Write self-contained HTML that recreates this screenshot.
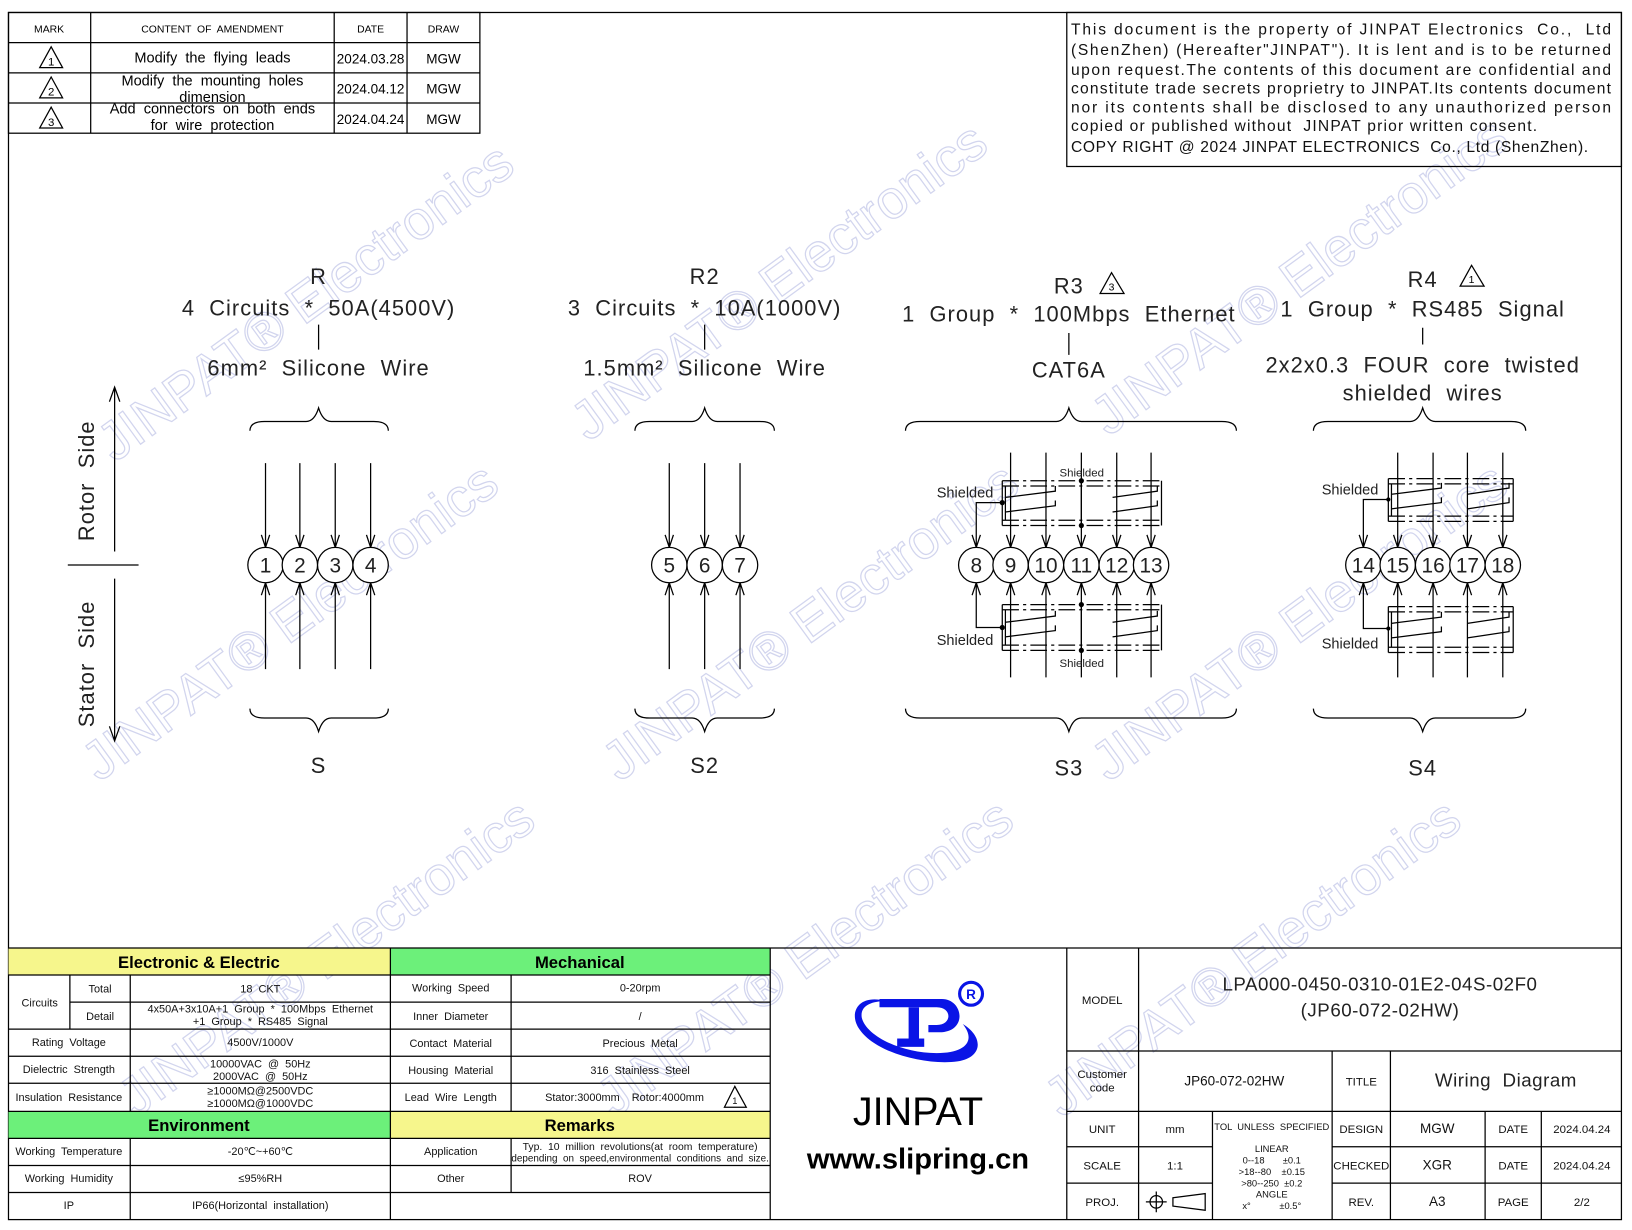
<!DOCTYPE html>
<html><head><meta charset="utf-8"><style>
html,body{margin:0;padding:0;background:#fff;}
svg{display:block;font-family:"Liberation Sans",sans-serif;}
text{white-space:pre;}
</style></head><body>
<svg width="1632" height="1230" viewBox="0 0 1568 1182" xmlns="http://www.w3.org/2000/svg">
<rect width="1568" height="1182" fill="#fff"/>
<!-- watermarks -->
<g font-size="52" fill="none" stroke="#d2d5ee" stroke-width="1.2" font-family="Liberation Sans,sans-serif">
<text transform="translate(110,445) rotate(-36)">JINPAT® Electronics</text>
<text transform="translate(565,425) rotate(-36)">JINPAT® Electronics</text>
<text transform="translate(1065,420) rotate(-36)">JINPAT® Electronics</text>
<text transform="translate(95,752) rotate(-36)">JINPAT® Electronics</text>
<text transform="translate(595,752) rotate(-36)">JINPAT® Electronics</text>
<text transform="translate(1065,752) rotate(-36)">JINPAT® Electronics</text>
<text transform="translate(130,1075) rotate(-36)">JINPAT® Electronics</text>
<text transform="translate(590,1075) rotate(-36)">JINPAT® Electronics</text>
<text transform="translate(1020,1075) rotate(-36)">JINPAT® Electronics</text>
</g>
<g stroke="#000" fill="none" stroke-width="1.2">
<rect x="8" y="12" width="1550" height="1160"/>
<rect x="8" y="12" width="453" height="116"/>
<path d="M8 41H461M8 70H461M8 99H461M87 12V128M321 12V128M391 12V128"/>
<path d="M49 45L38 65H60Z M49 74L38 94H60Z M49 103L38 123H60Z"/>
<rect x="1025" y="12" width="533" height="148"/>
</g>
<g font-size="10" text-anchor="middle">
<text x="47" y="31">MARK</text><text x="204" y="31">CONTENT  OF  AMENDMENT</text><text x="356" y="31">DATE</text><text x="426" y="31">DRAW</text>
<text x="49" y="63" font-size="11">1</text><text x="49" y="92" font-size="11">2</text><text x="49" y="121" font-size="11">3</text>
</g>
<g font-size="14" text-anchor="middle">
<text x="204" y="60">Modify  the  flying  leads</text>
<text x="204" y="82">Modify  the  mounting  holes</text><text x="204" y="98">dimension</text>
<text x="204" y="109">Add  connectors  on  both  ends</text><text x="204" y="125">for  wire  protection</text>
<text x="356" y="61" font-size="13">2024.03.28</text><text x="356" y="90" font-size="13">2024.04.12</text><text x="356" y="119" font-size="13">2024.04.24</text>
<text x="426" y="61" font-size="13">MGW</text><text x="426" y="90" font-size="13">MGW</text><text x="426" y="119" font-size="13">MGW</text>
</g>
<g font-size="15" fill="#111">
<text x="1029" y="33" textLength="519" lengthAdjust="spacing">This document is the property of JINPAT Electronics  Co.,  Ltd</text>
<text x="1029" y="53" textLength="519" lengthAdjust="spacing">(ShenZhen) (Hereafter"JINPAT"). It is lent and is to be returned</text>
<text x="1029" y="72" textLength="519" lengthAdjust="spacing">upon request.The contents of this document are confidential and</text>
<text x="1029" y="90" textLength="519" lengthAdjust="spacing">constitute trade secrets proprietry to JINPAT.Its contents document</text>
<text x="1029" y="108" textLength="519" lengthAdjust="spacing">nor its contents shall be disclosed to any unauthorized person</text>
<text x="1029" y="126" textLength="448" lengthAdjust="spacing">copied or published without  JINPAT prior written consent.</text>
<text x="1029" y="146" textLength="497" lengthAdjust="spacing">COPY RIGHT @ 2024 JINPAT ELECTRONICS  Co., Ltd (ShenZhen).</text>
</g>

<g stroke="#000" fill="none" stroke-width="1.2">
<path d="M110 530V372M105 386L110 372L115 386"/>
<path d="M110 556V712M105 698L110 712L115 698"/>
<path d="M65 543H133"/>
</g>
<g font-size="21" fill="#222" letter-spacing="1">
<text transform="translate(90,462) rotate(-90)" text-anchor="middle">Rotor  Side</text>
<text transform="translate(90,638) rotate(-90)" text-anchor="middle">Stator  Side</text>
</g>

<g font-size="21" text-anchor="middle" fill="#222" letter-spacing="1">
<text x="306" y="273">R</text>
<text x="306" y="303">4  Circuits  *  50A(4500V)</text>
<text x="306" y="361">6mm²  Silicone  Wire</text>
<text x="306" y="743">S</text>
<text x="677" y="273">R2</text>
<text x="677" y="303">3  Circuits  *  10A(1000V)</text>
<text x="677" y="361">1.5mm²  Silicone  Wire</text>
<text x="677" y="743">S2</text>
<text x="1027" y="282">R3</text>
<text x="1027" y="309">1  Group  *  100Mbps  Ethernet</text>
<text x="1027" y="363">CAT6A</text>
<text x="1027" y="745">S3</text>
<text x="1367" y="276">R4</text>
<text x="1367" y="304">1  Group  *  RS485  Signal</text>
<text x="1367" y="358">2x2x0.3  FOUR  core  twisted</text>
<text x="1367" y="385">shielded  wires</text>
<text x="1367" y="745">S4</text>
</g>
<g stroke="#000" fill="none" stroke-width="1.2">
<path d="M306 312V336M677 312V336M1027 320V341M1367 315V331"/>
<path d="M1068 262L1057 282H1080Z M1414 255L1403 275H1426Z"/>
<path d="M240 414Q240 405 254 405L294 405Q302 405 306 392Q310 405 318 405L359 405Q373 405 373 414"/>
<path d="M240 681Q240 690 254 690L294 690Q302 690 306 703Q310 690 318 690L359 690Q373 690 373 681"/>
<path d="M610 414Q610 405 624 405L665 405Q673 405 677 392Q681 405 689 405L730 405Q744 405 744 414"/>
<path d="M610 681Q610 690 624 690L665 690Q673 690 677 703Q681 690 689 690L730 690Q744 690 744 681"/>
<path d="M870 414Q870 405 884 405L1015 405Q1023 405 1027 392Q1031 405 1039 405L1174 405Q1188 405 1188 414"/>
<path d="M870 681Q870 690 884 690L1015 690Q1023 690 1027 703Q1031 690 1039 690L1174 690Q1188 690 1188 681"/>
<path d="M1262 414Q1262 405 1276 405L1355 405Q1363 405 1367 392Q1371 405 1379 405L1452 405Q1466 405 1466 414"/>
<path d="M1262 681Q1262 690 1276 690L1355 690Q1363 690 1367 703Q1371 690 1379 690L1452 690Q1466 690 1466 681"/>
</g>
<g font-size="10" text-anchor="middle" fill="#000"><text x="1068" y="279">3</text><text x="1414" y="272">1</text></g>

<defs>
<g id="w1" stroke="#000" fill="none" stroke-width="1.2"><path d="M0 -98V-17M-4 -29L0 -17L4 -29M0 100V17M-4 29L0 17L4 29"/></g>
<g id="w3" stroke="#000" fill="none" stroke-width="1.2"><path d="M0 -108V-17M-4 -29L0 -17L4 -29M0 108V17M-4 29L0 17L4 29"/></g>
</defs>
<g transform="translate(0,543)">
<use href="#w1" x="255"/><use href="#w1" x="288"/><use href="#w1" x="322"/><use href="#w1" x="356"/>
<use href="#w1" x="643"/><use href="#w1" x="677"/><use href="#w1" x="711"/>
<use href="#w3" x="971"/><use href="#w3" x="1005"/><use href="#w3" x="1039"/><use href="#w3" x="1073"/><use href="#w3" x="1106"/>
<use href="#w3" x="1343"/><use href="#w3" x="1377"/><use href="#w3" x="1410"/><use href="#w3" x="1444"/>
</g>
<g stroke="#000" fill="none" stroke-width="1.2">
<path d="M963 483H938V526M934 514L938 526L942 514M963 603H938V560M934 572L938 560L942 572"/>
<path d="M1334 480H1310V526M1306 514L1310 526L1314 514M1334 604H1310V560M1306 572L1310 560L1314 572"/>
<g stroke-dasharray="16 4 3 4">
<path d="M963 462H1116M963 467H1116M963 500H1116M963 505H1116"/>
<path d="M963 581H1116M963 586H1116M963 620H1116M963 625H1116"/>
<path d="M1334 460H1454M1334 465H1454M1334 496H1454M1334 501H1454"/>
<path d="M1334 583H1454M1334 588H1454M1334 622H1454M1334 627H1454"/>
</g>
<path d="M963 462V505M966 467V500M1116 462V505M963 581V625M966 586V620M1116 581V625"/>
<path d="M966 478L1014 472V467M966 492L1014 486V481M1069 478L1112 472V467M1069 492L1112 486V481"/>
<path d="M966 598L1014 592V587M966 612L1014 606V601M1069 598L1112 592V587M1069 612L1112 606V601"/>
<path d="M1039 462V505M1039 581V625"/>
<path d="M1334 460V501M1337 465V496M1454 460V501M1334 583V627M1337 588V622M1454 583V627"/>
<path d="M1337 475L1385 469V464M1337 489L1385 483V478M1410 475L1450 469V464M1410 489L1450 483V478"/>
<path d="M1337 599L1385 593V588M1337 613L1385 607V602M1410 599L1450 593V588M1410 613L1450 607V602"/>
</g>
<g fill="#000">
<circle cx="963" cy="483" r="2.5"/><circle cx="963" cy="603" r="2.5"/>
<circle cx="1039" cy="462" r="2.5"/><circle cx="1039" cy="505" r="2.5"/><circle cx="1039" cy="581" r="2.5"/><circle cx="1039" cy="625" r="2.5"/>
<circle cx="1334" cy="480" r="2"/><circle cx="1334" cy="604" r="2"/>
</g>
<g font-size="14" fill="#222">
<text x="900" y="478">Shielded</text><text x="900" y="620">Shielded</text>
<text x="1270" y="475">Shielded</text><text x="1270" y="623">Shielded</text>
<text x="1018" y="458" font-size="11">Shielded</text><text x="1018" y="641" font-size="11">Shielded</text>
</g>
<g stroke="#000" fill="#fff" stroke-width="1.2">
<circle cx="255" cy="543" r="17"/><circle cx="288" cy="543" r="17"/><circle cx="322" cy="543" r="17"/><circle cx="356" cy="543" r="17"/>
<circle cx="643" cy="543" r="17"/><circle cx="677" cy="543" r="17"/><circle cx="711" cy="543" r="17"/>
<circle cx="938" cy="543" r="17"/><circle cx="971" cy="543" r="17"/><circle cx="1005" cy="543" r="17"/><circle cx="1039" cy="543" r="17"/><circle cx="1073" cy="543" r="17"/><circle cx="1106" cy="543" r="17"/>
<circle cx="1310" cy="543" r="17"/><circle cx="1343" cy="543" r="17"/><circle cx="1377" cy="543" r="17"/><circle cx="1410" cy="543" r="17"/><circle cx="1444" cy="543" r="17"/>
</g>
<g font-size="20" text-anchor="middle" fill="#222">
<text x="255" y="550">1</text><text x="288" y="550">2</text><text x="322" y="550">3</text><text x="356" y="550">4</text>
<text x="643" y="550">5</text><text x="677" y="550">6</text><text x="711" y="550">7</text>
<text x="938" y="550">8</text><text x="971" y="550">9</text><text x="1005" y="550">10</text><text x="1039" y="550">11</text><text x="1073" y="550">12</text><text x="1106" y="550">13</text>
<text x="1310" y="550">14</text><text x="1343" y="550">15</text><text x="1377" y="550">16</text><text x="1410" y="550">17</text><text x="1444" y="550">18</text>
</g>

<rect x="8" y="911" width="367" height="26" fill="#f6f68c"/>
<rect x="375" y="911" width="365" height="26" fill="#6cf07a"/>
<rect x="8" y="1068" width="367" height="26" fill="#6cf07a"/>
<rect x="375" y="1068" width="365" height="26" fill="#f6f68c"/>
<g stroke="#000" fill="none" stroke-width="1.2">
<path d="M8 911H1558"/>
<path d="M8 937H740M67 963H375M375 963H740M8 989H740M8 1015H740M8 1041H740M8 1068H740M8 1094H740M8 1120H740M8 1146H740"/>
<path d="M375 911V1172M740 911V1172M67 937V989M125 937V1068M125 1094V1172M491 937V1068M491 1094V1146"/>
<path d="M706 1044L696 1064H717Z"/>
<path d="M1025 911V1172M1094 911V1172M1025 1010H1558M1025 1068H1558M1025 1102H1165M1280 1102H1558M1025 1137H1165M1280 1137H1558"/>
<path d="M1165 1068V1172M1280 1010V1172M1336 1010V1172M1427 1068V1172M1481 1068V1172"/>
<circle cx="1111" cy="1155" r="6"/><path d="M1101 1155H1121M1111 1145V1165M1127 1151L1158 1147V1163L1127 1159Z"/>
</g>
<g font-size="16" font-weight="bold" text-anchor="middle" fill="#000">
<text x="191" y="930">Electronic &amp; Electric</text><text x="557" y="930">Mechanical</text>
<text x="191" y="1087">Environment</text><text x="557" y="1087">Remarks</text>
</g>
<g font-size="10.5" text-anchor="middle" fill="#111">
<text x="38" y="967">Circuits</text><text x="96" y="954">Total</text><text x="96" y="980">Detail</text>
<text x="250" y="954">18  CKT</text><text x="250" y="973">4x50A+3x10A+1  Group  *  100Mbps  Ethernet</text><text x="250" y="985">+1  Group  *  RS485  Signal</text>
<text x="66" y="1005">Rating  Voltage</text><text x="250" y="1005">4500V/1000V</text>
<text x="66" y="1031">Dielectric  Strength</text><text x="250" y="1026">10000VAC  @  50Hz</text><text x="250" y="1038">2000VAC  @  50Hz</text>
<text x="66" y="1058">Insulation  Resistance</text><text x="250" y="1052">≥1000MΩ@2500VDC</text><text x="250" y="1064">≥1000MΩ@1000VDC</text>
<text x="66" y="1110">Working  Temperature</text><text x="250" y="1110">-20℃~+60℃</text>
<text x="66" y="1136">Working  Humidity</text><text x="250" y="1136">≤95%RH</text>
<text x="66" y="1162">IP</text><text x="250" y="1162">IP66(Horizontal  installation)</text>
<text x="433" y="953">Working  Speed</text><text x="615" y="953">0-20rpm</text>
<text x="433" y="980">Inner  Diameter</text><text x="615" y="980">/</text>
<text x="433" y="1006">Contact  Material</text><text x="615" y="1006">Precious  Metal</text>
<text x="433" y="1032">Housing  Material</text><text x="615" y="1032">316  Stainless  Steel</text>
<text x="433" y="1058">Lead  Wire  Length</text><text x="600" y="1058">Stator:3000mm    Rotor:4000mm</text>
<text x="706" y="1061" font-size="9">1</text>
<text x="433" y="1110">Application</text><text x="615" y="1105" font-size="10">Typ.  10  million  revolutions(at  room  temperature)</text><text x="615" y="1116" font-size="9.5">depending  on  speed,environmental  conditions  and  size.</text>
<text x="433" y="1136">Other</text><text x="615" y="1136">ROV</text>
</g>
<g fill="#0a14e6">
<path d="M851 962C826 955 815 972 825 988C840 1012 890 1024 920 1020C945 1016 945 996 925 984C938 1000 928 1012 900 1012C865 1012 832 995 828 978C826 966 838 962 851 962Z"/>
<path d="M845 960H905C925 960 930 990 905 992H892V985H900C915 985 915 968 900 968H845Z"/>
<rect x="873" y="968" width="10" height="32"/>
<rect x="862" y="998" width="26" height="8"/>
<circle cx="933" cy="955" r="11" fill="none" stroke="#0a14e6" stroke-width="3"/>
<text x="933" y="960" font-size="13" font-weight="bold" text-anchor="middle">R</text>
</g>
<text x="882" y="1081" font-size="38" text-anchor="middle" fill="#000">JINPAT</text>
<text x="882" y="1123" font-size="28" font-weight="bold" text-anchor="middle" fill="#000">www.slipring.cn</text>
<g font-size="11" text-anchor="middle" fill="#111">
<text x="1059" y="965">MODEL</text>
<text x="1059" y="1036">Customer</text><text x="1059" y="1049">code</text>
<text x="1186" y="1043" font-size="13">JP60-072-02HW</text>
<text x="1308" y="1043">TITLE</text>
<text x="1059" y="1089">UNIT</text><text x="1129" y="1089">mm</text>
<text x="1222" y="1086" font-size="9">TOL  UNLESS  SPECIFIED</text>
<text x="1222" y="1107" font-size="9">LINEAR</text>
<text x="1222" y="1118" font-size="9">0--18       ±0.1</text>
<text x="1222" y="1129" font-size="9">&gt;18--80    ±0.15</text>
<text x="1222" y="1140" font-size="9">&gt;80--250  ±0.2</text>
<text x="1222" y="1151" font-size="9">ANGLE</text>
<text x="1222" y="1162" font-size="9">x°           ±0.5°</text>
<text x="1308" y="1089">DESIGN</text><text x="1381" y="1089" font-size="13">MGW</text><text x="1454" y="1089">DATE</text><text x="1520" y="1089">2024.04.24</text>
<text x="1059" y="1124">SCALE</text><text x="1129" y="1124">1:1</text>
<text x="1308" y="1124">CHECKED</text><text x="1381" y="1124" font-size="13">XGR</text><text x="1454" y="1124">DATE</text><text x="1520" y="1124">2024.04.24</text>
<text x="1059" y="1159">PROJ.</text>
<text x="1308" y="1159">REV.</text><text x="1381" y="1159" font-size="13">A3</text><text x="1454" y="1159">PAGE</text><text x="1520" y="1159">2/2</text>
</g>
<g font-size="18" text-anchor="middle" fill="#222" letter-spacing="0.5">
<text x="1326" y="952">LPA000-0450-0310-01E2-04S-02F0</text>
<text x="1326" y="977">(JP60-072-02HW)</text>
<text x="1447" y="1044">Wiring  Diagram</text>
</g>
</svg>
</body></html>
